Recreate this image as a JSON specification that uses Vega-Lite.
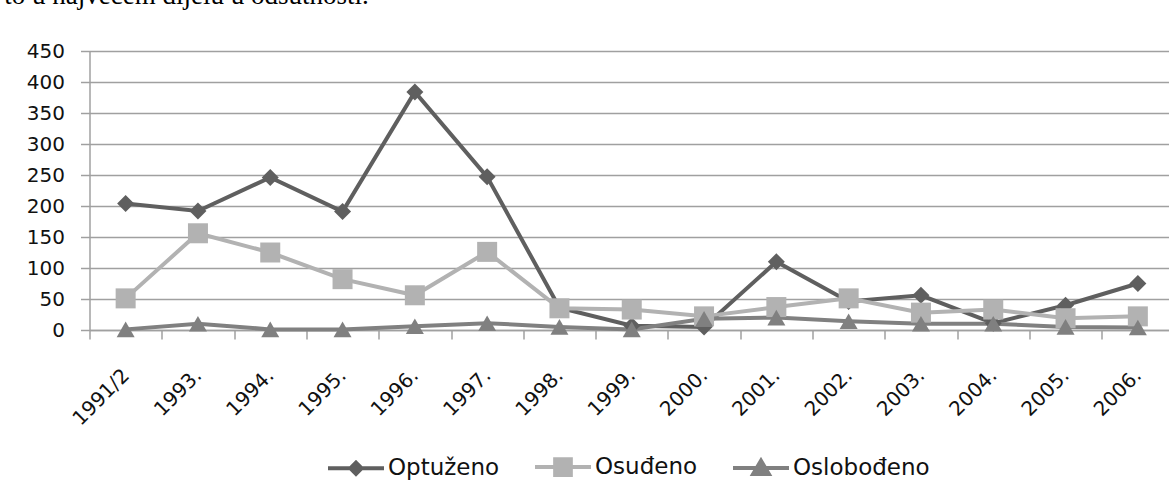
{
  "$schema": "https://vega.github.io/schema/vega-lite/v6.json",
  "width": 1079.5,
  "height": 279,
  "autosize": {"type": "none"},
  "padding": {"left": 89.5, "top": 51, "right": 0, "bottom": 162},
  "background": "white",
  "title": {
    "text": "to u najvećem dijelu u odsutnosti.",
    "font": "Liberation Serif",
    "fontSize": 27,
    "fontWeight": "normal",
    "color": "#000000",
    "anchor": "start",
    "frame": "bounds",
    "baseline": "alphabetic",
    "offset": 10,
    "dx": -22
  },
  "config": {
    "view": {"stroke": null},
    "font": "DejaVu Sans"
  },
  "data": {
    "values": [
      {"godina": "1991/2", "serija": "Optuženo", "broj": 204},
      {"godina": "1993.", "serija": "Optuženo", "broj": 192},
      {"godina": "1994.", "serija": "Optuženo", "broj": 246},
      {"godina": "1995.", "serija": "Optuženo", "broj": 191},
      {"godina": "1996.", "serija": "Optuženo", "broj": 384},
      {"godina": "1997.", "serija": "Optuženo", "broj": 247},
      {"godina": "1998.", "serija": "Optuženo", "broj": 36},
      {"godina": "1999.", "serija": "Optuženo", "broj": 7},
      {"godina": "2000.", "serija": "Optuženo", "broj": 5},
      {"godina": "2001.", "serija": "Optuženo", "broj": 110},
      {"godina": "2002.", "serija": "Optuženo", "broj": 46},
      {"godina": "2003.", "serija": "Optuženo", "broj": 56},
      {"godina": "2004.", "serija": "Optuženo", "broj": 11},
      {"godina": "2005.", "serija": "Optuženo", "broj": 40},
      {"godina": "2006.", "serija": "Optuženo", "broj": 75},
      {"godina": "1991/2", "serija": "Osuđeno", "broj": 51},
      {"godina": "1993.", "serija": "Osuđeno", "broj": 156},
      {"godina": "1994.", "serija": "Osuđeno", "broj": 125},
      {"godina": "1995.", "serija": "Osuđeno", "broj": 82},
      {"godina": "1996.", "serija": "Osuđeno", "broj": 56},
      {"godina": "1997.", "serija": "Osuđeno", "broj": 126},
      {"godina": "1998.", "serija": "Osuđeno", "broj": 35},
      {"godina": "1999.", "serija": "Osuđeno", "broj": 33},
      {"godina": "2000.", "serija": "Osuđeno", "broj": 22},
      {"godina": "2001.", "serija": "Osuđeno", "broj": 37},
      {"godina": "2002.", "serija": "Osuđeno", "broj": 51},
      {"godina": "2003.", "serija": "Osuđeno", "broj": 28},
      {"godina": "2004.", "serija": "Osuđeno", "broj": 33},
      {"godina": "2005.", "serija": "Osuđeno", "broj": 19},
      {"godina": "2006.", "serija": "Osuđeno", "broj": 22},
      {"godina": "1991/2", "serija": "Oslobođeno", "broj": 1},
      {"godina": "1993.", "serija": "Oslobođeno", "broj": 10},
      {"godina": "1994.", "serija": "Oslobođeno", "broj": 1},
      {"godina": "1995.", "serija": "Oslobođeno", "broj": 1},
      {"godina": "1996.", "serija": "Oslobođeno", "broj": 6},
      {"godina": "1997.", "serija": "Oslobođeno", "broj": 11},
      {"godina": "1998.", "serija": "Oslobođeno", "broj": 5},
      {"godina": "1999.", "serija": "Oslobođeno", "broj": 1},
      {"godina": "2000.", "serija": "Oslobođeno", "broj": 18},
      {"godina": "2001.", "serija": "Oslobođeno", "broj": 20},
      {"godina": "2002.", "serija": "Oslobođeno", "broj": 14},
      {"godina": "2003.", "serija": "Oslobođeno", "broj": 10},
      {"godina": "2004.", "serija": "Oslobođeno", "broj": 10},
      {"godina": "2005.", "serija": "Oslobođeno", "broj": 5},
      {"godina": "2006.", "serija": "Oslobođeno", "broj": 4}
    ]
  },
  "encoding": {
    "x": {
      "field": "godina",
      "type": "nominal",
      "sort": null,
      "scale": {"type": "band", "paddingInner": 0, "paddingOuter": 0, "range": [0, 1084.5]},
      "axis": {
        "title": null,
        "grid": false,
        "tickBand": "extent",
        "ticks": true,
        "tickSize": 9,
        "tickColor": "#a0a0a0",
        "tickWidth": 1.5,
        "domainColor": "#a0a0a0",
        "domainWidth": 1.5,
        "labelAngle": -45,
        "labelAlign": "right",
        "labelBaseline": "middle",
        "labelFont": "DejaVu Sans",
        "labelFontSize": 20,
        "labelColor": "#111111",
        "labelPadding": 33
      }
    },
    "y": {
      "field": "broj",
      "type": "quantitative",
      "scale": {"domain": [0, 450], "nice": false},
      "axis": {
        "title": null,
        "values": [0, 50, 100, 150, 200, 250, 300, 350, 400, 450],
        "grid": true,
        "gridColor": "#a0a0a0",
        "gridWidth": 1.5,
        "tickSize": 9,
        "tickColor": "#a0a0a0",
        "tickWidth": 1.5,
        "domainColor": "#a0a0a0",
        "domainWidth": 1.5,
        "labelFont": "DejaVu Sans",
        "labelFontSize": 20,
        "labelColor": "#111111",
        "labelPadding": 16
      }
    }
  },
  "layer": [
    {
      "mark": {"type": "line", "strokeWidth": 4},
      "encoding": {
        "color": {
          "field": "serija",
          "type": "nominal",
          "sort": ["Optuženo", "Osuđeno", "Oslobođeno"],
          "scale": {"domain": ["Optuženo", "Osuđeno", "Oslobođeno"], "range": ["#5f5f5f", "#b2b2b2", "#808080"]}
        }
      }
    },
    {
      "transform": [{"filter": "datum.serija === 'Optuženo'"}],
      "mark": {"type": "point", "shape": "diamond", "filled": true, "opacity": 1, "size": 289, "color": "#5f5f5f", "strokeWidth": 0}
    },
    {
      "transform": [{"filter": "datum.serija === 'Osuđeno'"}],
      "mark": {"type": "point", "shape": "square", "filled": true, "opacity": 1, "size": 400, "color": "#b2b2b2", "strokeWidth": 0}
    },
    {
      "transform": [{"filter": "datum.serija === 'Oslobođeno'"}],
      "mark": {"type": "point", "shape": "triangle-up", "filled": true, "opacity": 1, "size": 324, "color": "#808080", "strokeWidth": 0}
    },
    {
      "mark": {"type": "point", "filled": true, "opacity": 0},
      "encoding": {
        "color": {
          "field": "serija",
          "type": "nominal",
          "sort": ["Optuženo", "Osuđeno", "Oslobođeno"],
          "scale": {"domain": ["Optuženo", "Osuđeno", "Oslobođeno"], "range": ["#5f5f5f", "#b2b2b2", "#808080"]},
          "legend": {
            "orient": "none",
            "legendX": 236.5,
            "legendY": 386,
            "direction": "horizontal",
            "title": null,
            "symbolSize": 3136,
            "symbolStrokeWidth": 4,
            "symbolOpacity": 1,
            "labelFont": "DejaVu Sans",
            "labelFontSize": 23,
            "labelColor": "#111111",
            "labelOffset": 2,
            "columnPadding": 27
          }
        },
        "shape": {
          "field": "serija",
          "type": "nominal",
          "sort": ["Optuženo", "Osuđeno", "Oslobođeno"],
          "scale": {"domain": ["Optuženo", "Osuđeno", "Oslobođeno"], "range": ["M-1,0H1M0,-0.2L0.2,0L0,0.2L-0.2,0Z", "M-1,0H1M-0.28,-0.28H0.28V0.28H-0.28Z", "M-1,0H1M0,-0.26L0.28,0.22H-0.28Z"]},
          "legend": {
            "orient": "none",
            "legendX": 236.5,
            "legendY": 386,
            "direction": "horizontal",
            "title": null,
            "symbolSize": 3136,
            "symbolStrokeWidth": 4,
            "symbolOpacity": 1,
            "labelFont": "DejaVu Sans",
            "labelFontSize": 23,
            "labelColor": "#111111",
            "labelOffset": 2,
            "columnPadding": 27
          }
        }
      }
    }
  ]
}
